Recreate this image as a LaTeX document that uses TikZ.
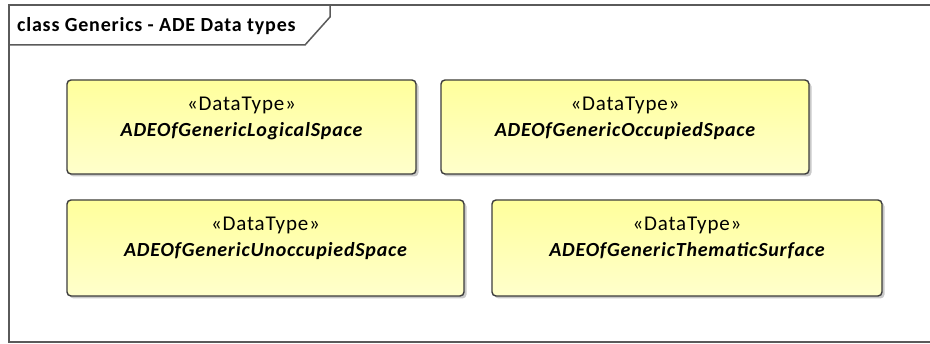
\documentclass[tikz,border=0pt]{standalone}
\usepackage{fontspec}
\setmainfont{Carlito}
\usetikzlibrary{shadows}
\definecolor{boxtop}{HTML}{FFFF9C}
\definecolor{boxbottom}{HTML}{FFFFCC}
\definecolor{boxline}{HTML}{3C3C3C}
\definecolor{frameline}{HTML}{5A5A5A}
\tikzset{
  dtbox/.style={draw=boxline, line width=1.4pt, rounded corners=4pt, top color=boxtop, bottom color=boxbottom,
    drop shadow={shadow xshift=2.5pt, shadow yshift=-2.5pt, opacity=.3, fill=black!70}},
  stereo/.style={anchor=base, inner sep=0pt, font=\fontsize{21}{24}\selectfont\addfontfeatures{LetterSpace=4}},
  dtname/.style={anchor=base, inner sep=0pt, font=\fontsize{20}{24}\selectfont\bfseries\itshape\addfontfeatures{LetterSpace=4}},
  title/.style={anchor=base west, inner sep=0pt, font=\fontsize{20}{24}\selectfont\bfseries\addfontfeatures{LetterSpace=4}},
  frame/.style={draw=frameline, line width=1.5pt}
}
\begin{document}
\begin{tikzpicture}[x=1pt, y=-1pt]
\useasboundingbox (0,0) rectangle (930,344);
% package frame with name tab
\draw[frame] (930,5) -- (9,5) -- (9,342) -- (930,342);
\draw[frame] (9,45) -- (305,45) -- (330,17) -- (330,5);
\node[title] (title) at (17,32) {class Generics - ADE Data types};
% data types
\node[dtbox, minimum width=349pt, minimum height=94pt] (logical) at (241.5,127) {};
\node[dtbox, minimum width=368pt, minimum height=94pt] (occupied) at (625,127) {};
\node[dtbox, minimum width=397pt, minimum height=96pt] (unoccupied) at (265.5,248) {};
\node[dtbox, minimum width=390pt, minimum height=96pt] (thematic) at (687,248) {};
\foreach \n/\t in {logical/ADEOfGenericLogicalSpace, occupied/ADEOfGenericOccupiedSpace,
    unoccupied/ADEOfGenericUnoccupiedSpace, thematic/ADEOfGenericThematicSurface}{
  \node[stereo] (\n-st) at ([yshift=-31pt]\n.north) {«DataType»};
  \node[dtname] (\n-nm) at ([yshift=-57pt]\n.north) {\t};
}
\end{tikzpicture}
\end{document}
